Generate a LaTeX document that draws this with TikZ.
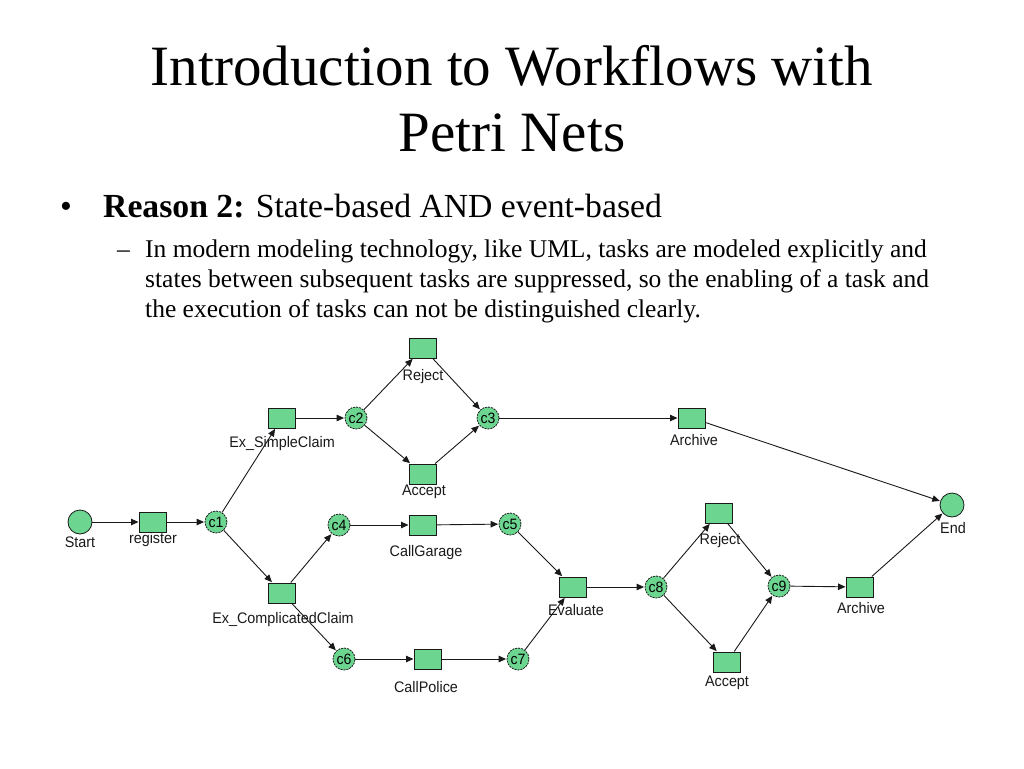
\documentclass[tikz,border=0pt]{standalone}
\usepackage{fontspec}
\setmainfont{Liberation Serif}
\newfontfamily\lblfont[FakeStretch=0.94]{Liberation Sans}
\usetikzlibrary{arrows.meta}
\definecolor{pn}{RGB}{108,214,144}
\definecolor{ln}{RGB}{25,25,25}
\tikzset{
  trans/.style={draw=ln, fill=pn, minimum width=27pt, minimum height=20pt, inner sep=0pt, line width=1pt},
  place/.style={circle, draw=ln, fill=pn, minimum size=22pt, inner sep=0pt, line width=0.8pt, dash pattern=on 2pt off 1pt, font=\lblfont\fontsize{15}{15}\selectfont},
  endpt/.style={circle, draw=ln, fill=pn, minimum size=24pt, inner sep=0pt, line width=0.8pt},
  lbl/.style={inner sep=0pt, font=\lblfont\fontsize{15.3}{15.3}\selectfont, text=ln},
  arc/.style={-{Triangle[length=7.5pt,width=6.5pt]}, line width=0.9pt, draw=ln, shorten >=0.5pt},
  txt/.style={inner sep=0pt, anchor=base west}
}
\begin{document}
\begin{tikzpicture}[x=1pt,y=-1pt]
\useasboundingbox (0,0) rectangle (1024,768);
% title
\node[inner sep=0pt, anchor=base, font=\fontsize{57}{57}\selectfont] (t1) at (512,85) {Introduction to Workflows with};
\node[inner sep=0pt, anchor=base, font=\fontsize{57}{57}\selectfont] (t2) at (512,151) {Petri Nets};
% bullets
\node[txt, font=\fontsize{33.7}{33.7}\selectfont] (b1) at (60,217) {•};
\node[txt, font=\fontsize{33.7}{33.7}\selectfont] (b1t) at (103,217) {\textbf{Reason 2:} State-based AND event-based};
\node[txt, font=\fontsize{25.5}{25.5}\selectfont] (b2) at (117,257) {–};
\node[txt, font=\fontsize{25.5}{25.5}\selectfont] (l1) at (145,257) {In modern modeling technology, like UML, tasks are modeled explicitly and};
\node[txt, font=\fontsize{25.5}{25.5}\selectfont] (l2) at (145,287) {states between subsequent tasks are suppressed, so the enabling of a task and};
\node[txt, font=\fontsize{25.5}{25.5}\selectfont] (l3) at (145,317) {the execution of tasks can not be distinguished clearly.};
% net
\node[endpt] (start) at (80,522) {};
\node[trans] (reg) at (153,522) {};
\node[place] (c1) at (216,522) {c1};
\node[trans] (exs) at (282,418) {};
\node[place] (c2) at (356,418) {c2};
\node[trans] (rej1) at (423,348) {};
\node[trans] (acc1) at (423,474) {};
\node[place] (c3) at (488,418) {c3};
\node[trans] (arch1) at (692,418) {};
\node[endpt] (end) at (952,505) {};
\node[trans] (exc) at (282,593) {};
\node[place] (c4) at (339,525) {c4};
\node[trans] (gar) at (423,525) {};
\node[place] (c5) at (510,524) {c5};
\node[trans] (ev) at (573,587) {};
\node[place] (c6) at (344,659) {c6};
\node[trans] (pol) at (428,659) {};
\node[place] (c7) at (518,659) {c7};
\node[place] (c8) at (656,587) {c8};
\node[trans] (rej2) at (719,513) {};
\node[place] (c9) at (779,586) {c9};
\node[trans] (acc2) at (727,662) {};
\node[trans] (arch2) at (860,587) {};
% labels
\node[lbl] (Lstart) at (80,542) {Start};
\node[lbl] (Lreg) at (153,540) {register};
\node[lbl] (Lexs) at (282,444) {Ex\_SimpleClaim};
\node[lbl] (Lrej1) at (423,377) {Reject};
\node[lbl] (Lacc1) at (424,492) {Accept};
\node[lbl] (Larch1) at (694,440) {Archive};
\node[lbl] (Lend) at (953,528) {End};
\node[lbl] (Lexc) at (283,620) {Ex\_ComplicatedClaim};
\node[lbl] (Lgar) at (426,553) {CallGarage};
\node[lbl] (Lev) at (576,610) {Evaluate};
\node[lbl] (Lpol) at (426,687) {CallPolice};
\node[lbl] (Lrej2) at (720,541) {Reject};
\node[lbl] (Lacc2) at (727,683) {Accept};
\node[lbl] (Larch2) at (861,608) {Archive};
% arcs
\draw[arc] (start) -- (reg);
\draw[arc] (reg) -- (c1);
\draw[arc] (c1) -- (exs);
\draw[arc] (exs) -- (c2);
\draw[arc] (c2) -- (rej1);
\draw[arc] (c2) -- (acc1);
\draw[arc] (rej1) -- (c3);
\draw[arc] (acc1) -- (c3);
\draw[arc] (c3) -- (arch1);
\draw[arc] (arch1) -- (end);
\draw[arc] (c1) -- (exc);
\draw[arc] (exc) -- (c4);
\draw[arc] (exc) -- (c6);
\draw[arc] (c4) -- (gar);
\draw[arc] (gar) -- (c5);
\draw[arc] (c5) -- (ev);
\draw[arc] (c6) -- (pol);
\draw[arc] (pol) -- (c7);
\draw[arc] (c7) -- (ev);
\draw[arc] (ev) -- (c8);
\draw[arc] (c8) -- (rej2);
\draw[arc] (c8) -- (acc2);
\draw[arc] (rej2) -- (c9);
\draw[arc] (acc2) -- (c9);
\draw[arc] (c9) -- (arch2);
\draw[arc] (arch2) -- (end);
\end{tikzpicture}
\end{document}
